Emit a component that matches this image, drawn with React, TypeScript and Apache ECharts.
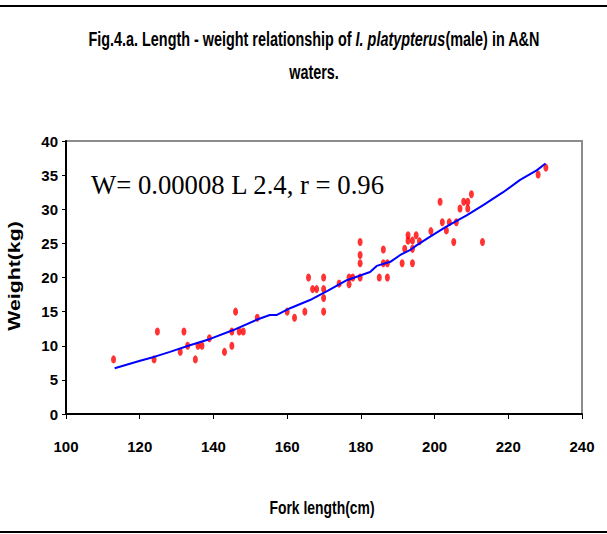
import React, { useEffect, useRef } from "react";
import * as echarts from "echarts";

// Observed fish: fork length (cm) and weight (kg)
const lengths = [
  112.9, 123.9, 124.8, 131.0, 132.0, 133.0, 135.1, 135.8, 136.9, 138.9,
  143.0, 145.0, 145.0, 146.0, 147.0, 148.1, 151.9, 160.0, 162.0, 164.8,
  165.8, 166.9, 168.0, 169.9, 169.9, 169.9, 169.9, 174.1, 176.8, 176.8,
  177.8, 179.8, 179.8, 179.8, 179.8, 185.0, 186.1, 186.1, 187.2, 187.2,
  191.2, 191.9, 192.8, 192.8, 194.0, 194.0, 194.0, 195.0, 195.9, 199.0,
  201.5, 202.1, 203.2, 204.0, 205.2, 205.9, 206.9, 207.9, 209.0, 209.0,
  210.0, 213.0, 228.1, 230.2,
];
const weights = [
  8.0, 8.0, 12.1, 9.1, 12.1, 10.0, 8.0, 10.0, 10.0, 11.1,
  9.1, 10.0, 12.1, 15.0, 12.1, 12.1, 14.1, 15.0, 14.1, 15.0,
  20.0, 18.3, 18.3, 20.0, 18.3, 17.0, 15.0, 19.1, 20.0, 19.0,
  20.0, 25.2, 23.3, 22.1, 20.0, 20.0, 24.1, 22.1, 22.1, 20.0,
  22.1, 24.2, 26.2, 25.4, 25.4, 24.2, 22.1, 26.2, 25.3, 26.8,
  31.1, 28.1, 26.9, 28.1, 25.2, 28.1, 30.1, 31.1, 31.1, 30.1,
  32.2, 25.2, 35.1, 36.1,
];

// Fitted curve as drawn
const fitLengths = [
  113.2, 120.1, 124.1, 128.2, 133.2, 139.1, 145.4, 151.7, 155.3, 157.1,
  160.8, 166.2, 171.2, 176.2, 182.5, 184.3, 188.0, 190.7, 193.3, 195.1,
  198.8, 203.3, 208.7, 213.2, 218.6, 223.2, 227.7, 230.1,
];
const fitWeights = [
  6.7, 7.8, 8.4, 9.1, 10.0, 11.0, 12.3, 13.8, 14.5, 14.5,
  15.5, 16.7, 18.1, 19.6, 20.8, 21.7, 22.3, 23.3, 24.0, 24.7,
  26.0, 27.5, 29.1, 30.6, 32.5, 34.3, 35.7, 36.7,
];

const titleLine1a = "Fig.4.a. Length - weight relationship of ";
const titleItalic = "I. platypterus";
const titleLine1b = "(male) in A&N";
const titleLine2 = "waters.";
const equationText = "W= 0.00008 L 2.4, r = 0.96";
const xName = "Fork length(cm)";
const yName = "Weight(kg)";

const SANS = '"Liberation Sans", Arial, sans-serif';

export default function App() {
  const ref = useRef<HTMLDivElement>(null);
  useEffect(() => {
    if (!ref.current) return;
    const chart = echarts.init(ref.current, null, { renderer: "svg" });
    const pts = lengths.map((l, i) => [l, weights[i]]);
    const fit = fitLengths.map((l, i) => [l, fitWeights[i]]);
    chart.setOption({
      animation: false,
      backgroundColor: "#ffffff",
      grid: {
        left: 66,
        right: 25,
        top: 141,
        bottom: 120,
        show: true,
        borderColor: "#8c8c8c",
        borderWidth: 2,
      },
      xAxis: {
        type: "value",
        min: 100,
        max: 240,
        interval: 20,
        splitLine: { show: false },
        axisLine: { show: true, onZero: false, lineStyle: { color: "#000", width: 2 } },
        axisTick: { show: true, length: 5, lineStyle: { color: "#000", width: 1 } },
        axisLabel: {
          color: "#000",
          fontFamily: SANS,
          fontWeight: "bold",
          fontSize: 15,
          margin: 25,
        },
      },
      yAxis: {
        type: "value",
        min: 0,
        max: 40,
        interval: 5,
        splitLine: { show: false },
        axisLine: { show: true, onZero: false, lineStyle: { color: "#000", width: 2 } },
        axisTick: { show: true, length: 4, lineStyle: { color: "#000", width: 1 } },
        axisLabel: {
          color: "#000",
          fontFamily: SANS,
          fontWeight: "bold",
          fontSize: 15,
          margin: 8,
        },
      },
      series: [
        {
          type: "line",
          data: fit,
          showSymbol: false,
          symbol: "none",
          lineStyle: { color: "#0000ff", width: 2 },
          z: 3,
        },
        {
          type: "scatter",
          data: pts,
          symbol: "circle",
          symbolSize: [5, 8],
          itemStyle: { color: "#ff0000" },
          z: 2,
        },
      ],
      graphic: [
        {
          type: "line",
          shape: { x1: 0, y1: 6, x2: 607, y2: 6 },
          style: { stroke: "#000", lineWidth: 2 },
        },
        {
          type: "line",
          shape: { x1: 0, y1: 532, x2: 607, y2: 532 },
          style: { stroke: "#000", lineWidth: 2 },
        },
        {
          type: "text",
          x: 314,
          y: 39,
          scaleX: 0.96,
          scaleY: 1.3,
          style: {
            text: `{a|${titleLine1a}}{i|${titleItalic}}{a|${titleLine1b}}`,
            align: "center",
            verticalAlign: "middle",
            rich: {
              a: { fontFamily: SANS, fontWeight: "bold", fontSize: 15, fill: "#000" },
              i: { fontFamily: SANS, fontWeight: "bold", fontStyle: "italic", fontSize: 15, fill: "#000" },
            },
          },
        },
        {
          type: "text",
          x: 314,
          y: 72,
          scaleX: 0.96,
          scaleY: 1.3,
          style: {
            text: titleLine2,
            align: "center",
            verticalAlign: "middle",
            fontFamily: SANS,
            fontWeight: "bold",
            fontSize: 15,
            fill: "#000",
          },
        },
        {
          type: "text",
          x: 91,
          y: 185,
          style: {
            text: equationText,
            align: "left",
            verticalAlign: "middle",
            fontFamily: '"Liberation Serif", "Times New Roman", serif',
            fontSize: 26.7,
            fill: "#000",
          },
        },
        {
          type: "text",
          x: 322,
          y: 508,
          scaleX: 0.87,
          scaleY: 1.2,
          style: {
            text: xName,
            align: "center",
            verticalAlign: "middle",
            fontFamily: SANS,
            fontWeight: "bold",
            fontSize: 16,
            fill: "#000",
          },
        },
        {
          type: "text",
          x: 14,
          y: 276,
          rotation: Math.PI / 2,
          scaleX: 1.33,
          style: {
            text: yName,
            align: "center",
            verticalAlign: "middle",
            fontFamily: SANS,
            fontWeight: "bold",
            fontSize: 16,
            fill: "#000",
          },
        },
      ],
    });
    return () => chart.dispose();
  }, []);
  return (
    <div
      ref={ref}
      style={{ position: "absolute", left: 0, top: 0, width: 607, height: 534 }}
    />
  );
}
